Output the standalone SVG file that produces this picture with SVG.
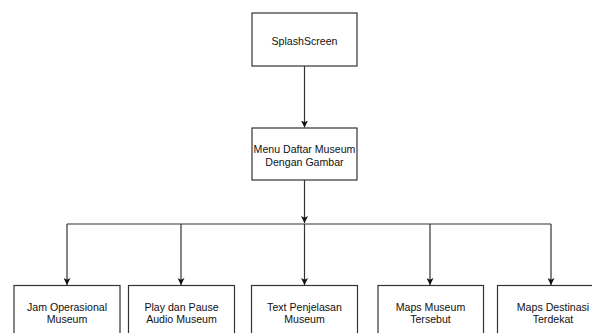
<svg xmlns="http://www.w3.org/2000/svg" width="592" height="333" viewBox="0 0 592 333">
  <style>
    .box { fill: #ffffff; stroke: #333333; stroke-width: 1.2; }
    .lbl { font-family: "Liberation Sans", Arial, sans-serif; font-size: 10.6px; fill: #111111; text-anchor: middle; }
    .wire { fill: none; stroke: #333333; stroke-width: 1.2; }
  </style>
  <defs>
    <marker id="arrow" viewBox="0 0 8 8" refX="8" refY="4" markerWidth="7" markerHeight="7" markerUnits="userSpaceOnUse" orient="auto">
      <path d="M0,0 L8,4 L0,8 L2,4 Z" fill="#111111"/>
    </marker>
  </defs>
  <rect width="592" height="333" fill="#ffffff"/>

  <g id="connectors">
    <path class="wire" d="M304.5,66 V127.5" marker-end="url(#arrow)"/>
    <path class="wire" d="M304.5,180 V223" marker-end="url(#arrow)"/>
    <path class="wire" d="M67,224 H551"/>
    <path class="wire" d="M67,224 V285" marker-end="url(#arrow)"/>
    <path class="wire" d="M181,224 V285" marker-end="url(#arrow)"/>
    <path class="wire" d="M304.5,224 V285" marker-end="url(#arrow)"/>
    <path class="wire" d="M430,224 V285" marker-end="url(#arrow)"/>
    <path class="wire" d="M551,224 V285" marker-end="url(#arrow)"/>
  </g>

  <g id="splash">
    <rect class="box" x="252" y="13" width="105" height="53"/>
    <text class="lbl" x="304.5" y="45">SplashScreen</text>
  </g>

  <g id="menu">
    <rect class="box" x="252" y="128" width="105" height="52"/>
    <text class="lbl" x="304.5" y="153">Menu Daftar Museum</text>
    <text class="lbl" x="304.5" y="166">Dengan Gambar</text>
  </g>

  <g id="jam">
    <rect class="box" x="14" y="285.5" width="106" height="60"/>
    <text class="lbl" x="67" y="310.5">Jam Operasional</text>
    <text class="lbl" x="67" y="323">Museum</text>
  </g>

  <g id="audio">
    <rect class="box" x="128.5" y="285.5" width="106" height="60"/>
    <text class="lbl" x="181.5" y="310.5">Play dan Pause</text>
    <text class="lbl" x="181.5" y="323">Audio Museum</text>
  </g>

  <g id="penjelasan">
    <rect class="box" x="251.5" y="285.5" width="106" height="60"/>
    <text class="lbl" x="304.5" y="310.5">Text Penjelasan</text>
    <text class="lbl" x="304.5" y="323">Museum</text>
  </g>

  <g id="maps">
    <rect class="box" x="378" y="285.5" width="105.5" height="60"/>
    <text class="lbl" x="430.5" y="310.5">Maps Museum</text>
    <text class="lbl" x="430.5" y="323">Tersebut</text>
  </g>

  <g id="destinasi">
    <rect class="box" x="497.5" y="285.5" width="106" height="60"/>
    <text class="lbl" x="553" y="310.5">Maps Destinasi</text>
    <text class="lbl" x="553" y="323">Terdekat</text>
  </g>
</svg>
